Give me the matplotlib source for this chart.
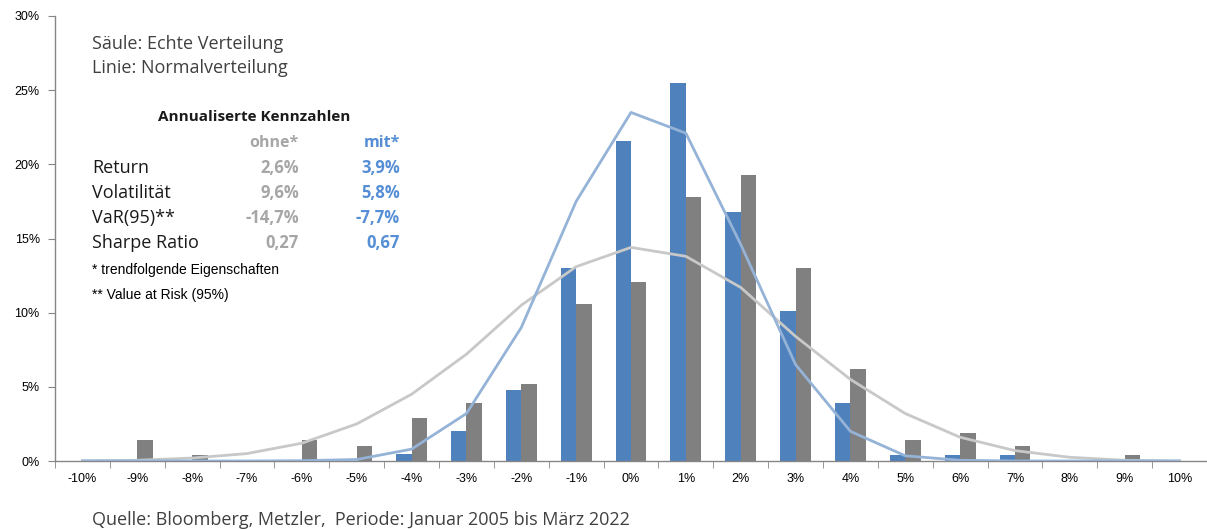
import matplotlib.pyplot as plt
import numpy as np

# Kategorien (monatliche Renditen)
categories = ["-10%", "-9%", "-8%", "-7%", "-6%", "-5%", "-4%", "-3%", "-2%", "-1%", "0%",
              "1%", "2%", "3%", "4%", "5%", "6%", "7%", "8%", "9%", "10%"]

# Säule: echte Verteilung (in %)
bars_mit = [0, 0, 0, 0, 0, 0, 0.5, 2.0, 4.8, 13.0, 21.6,
            25.5, 16.8, 10.1, 3.9, 0.4, 0.4, 0.4, 0, 0, 0]
bars_ohne = [0, 1.4, 0.4, 0, 1.4, 1.0, 2.9, 3.9, 5.2, 10.6, 12.1,
             17.8, 19.3, 13.0, 6.2, 1.4, 1.9, 1.0, 0, 0.4, 0]

# Linie: Normalverteilung (in %)
line_mit = [0, 0, 0, 0, 0.02, 0.1, 0.8, 3.2, 9.0, 17.5, 23.5,
            22.1, 14.6, 6.5, 2.0, 0.35, 0.05, 0, 0, 0, 0]
line_ohne = [0.02, 0.05, 0.2, 0.5, 1.2, 2.5, 4.5, 7.2, 10.5, 13.1, 14.4,
             13.8, 11.7, 8.4, 5.5, 3.2, 1.6, 0.7, 0.25, 0.05, 0.0]

y_ticks = [0, 5, 10, 15, 20, 25, 30]

# Kennzahlen-Tabelle
table_rows = ["Return", "Volatilität", "VaR(95)**", "Sharpe Ratio"]
table_ohne = ["2,6%", "9,6%", "-14,7%", "0,27"]
table_mit = ["3,9%", "5,8%", "-7,7%", "0,67"]

BLUE = "#4F81BD"
GREY = "#808080"
LBLUE = "#95B3D7"
LGREY = "#C8C8C8"
TXT = "#404040"

plt.rcParams['font.family'] = ['Open Sans', 'DejaVu Sans']

W, H = 1207, 529
fig = plt.figure(figsize=(W / 100, H / 100), dpi=100)
ax = fig.add_axes([55 / W, 1 - 461 / H, 1 - 55 / W, (461 - 16) / H])

x = np.arange(len(categories))
bw = 0.28
ax.bar(x - bw / 2, bars_mit, width=bw, color=BLUE, zorder=2)
ax.bar(x + bw / 2, bars_ohne, width=bw, color=GREY, zorder=2)
ax.plot(x, line_ohne, color=LGREY, lw=2.0, zorder=3)
ax.plot(x, line_mit, color=LBLUE, lw=2.0, zorder=3)

ax.set_xlim(-0.5, len(categories) - 0.5)
ax.set_ylim(0, 30)
ax.set_xticks(x)
ax.set_xticklabels(categories, fontsize=9, family=['Liberation Sans'])
ax.set_xticks(np.arange(-0.5, len(categories), 1), minor=True)
ax.tick_params(axis='x', which='major', length=0, pad=9)
ax.tick_params(axis='x', which='minor', length=5, color="#868686")
ax.set_yticks(y_ticks)
ax.set_yticklabels([f"{v}%" for v in y_ticks], fontsize=9, family=['Liberation Sans'])
ax.tick_params(axis='y', length=5, color="#868686", pad=6)

for s in ['top', 'right']:
    ax.spines[s].set_visible(False)
for s in ['left', 'bottom']:
    ax.spines[s].set_color("#868686")
    ax.spines[s].set_linewidth(1.0)


def px(xp, yp):
    return xp / W, 1 - yp / H


fig.text(*px(92, 44), "Säule: Echte Verteilung", fontsize=13, color=TXT, va='center')
fig.text(*px(92, 68), "Linie: Normalverteilung", fontsize=13, color=TXT, va='center')
fig.text(*px(254, 117), "Annualiserte Kennzahlen", fontsize=11, fontweight='bold',
         color="#1a1a1a", va='center', ha='center')
fig.text(*px(299, 143), "ohne*", fontsize=11.5, fontweight='bold', color="#A6A6A6",
         va='center', ha='right')
fig.text(*px(400, 143), "mit*", fontsize=11.5, fontweight='bold', color="#558ED5",
         va='center', ha='right')
for i, (lab, o, m) in enumerate(zip(table_rows, table_ohne, table_mit)):
    yy = 168 + 25 * i
    fig.text(*px(92, yy), lab, fontsize=13, color="#1a1a1a", va='center')
    fig.text(*px(299, yy), o, fontsize=12, fontweight='bold', color="#A6A6A6",
             va='center', ha='right')
    fig.text(*px(400, yy), m, fontsize=12, fontweight='bold', color="#558ED5",
             va='center', ha='right')

fig.text(*px(92, 270), "* trendfolgende Eigenschaften", fontsize=10, color="black",
         va='center', family=['Liberation Sans Narrow', 'Liberation Sans'])
fig.text(*px(92, 295), "** Value at Risk (95%)", fontsize=10, color="black",
         va='center', family=['Liberation Sans Narrow', 'Liberation Sans'])

fig.text(*px(92, 520), "Quelle: Bloomberg, Metzler,  Periode: Januar 2005 bis März 2022",
         fontsize=13, color=TXT, va='center')

fig.savefig("out.png", dpi=100)
